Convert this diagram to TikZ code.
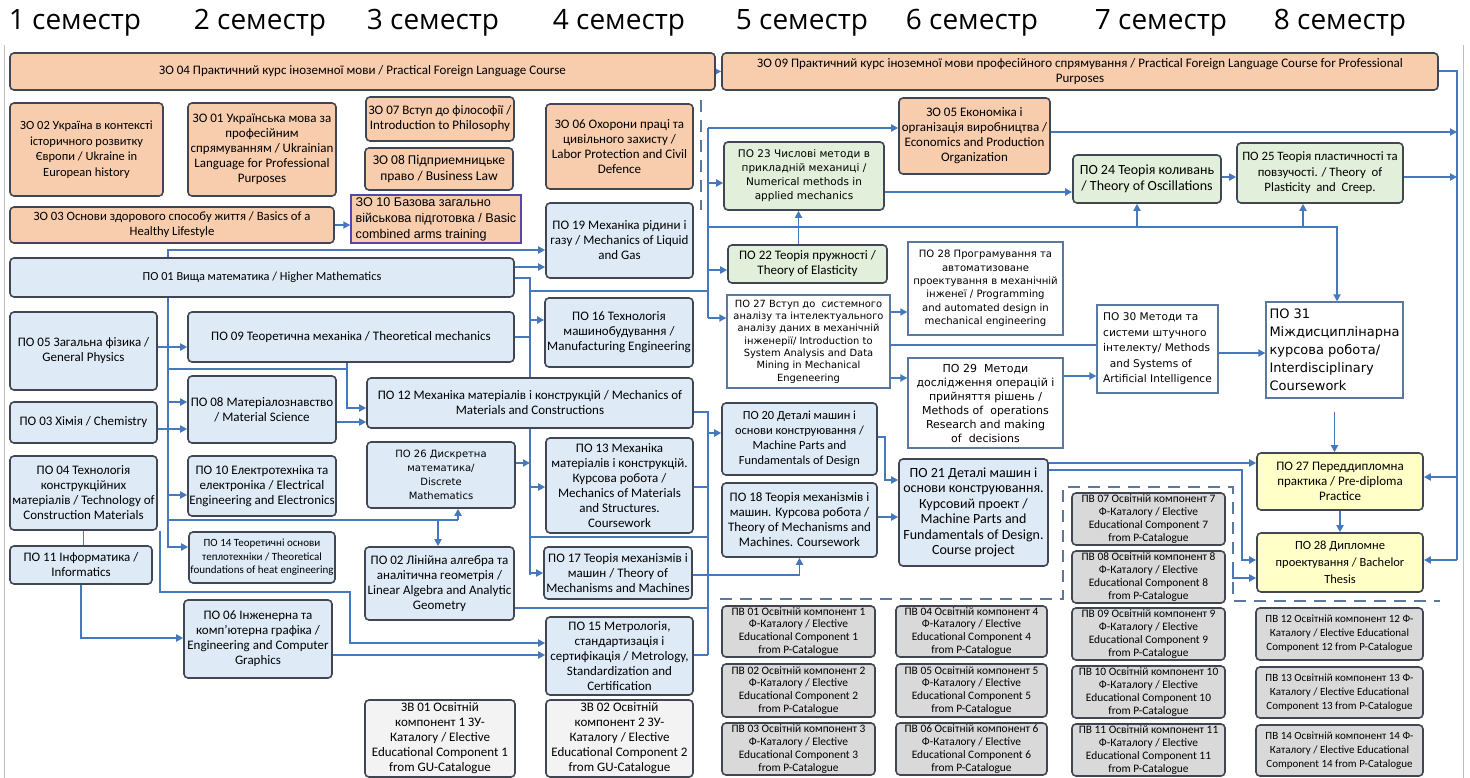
\documentclass[tikz,border=0pt]{standalone}
\usepackage{fontspec}
\setmainfont{Carlito}
\newfontfamily\hdrf{Open Sans}
\newfontfamily\dvs{DejaVu Sans}
\newfontfamily\lib{Liberation Sans}
\usetikzlibrary{arrows.meta,backgrounds}
\definecolor{bordc}{RGB}{64,70,84}
\definecolor{orangef}{RGB}{248,205,174}
\definecolor{bluef}{RGB}{222,235,247}
\definecolor{greenf}{RGB}{226,239,218}
\definecolor{yellowf}{RGB}{255,255,200}
\definecolor{grayf}{RGB}{217,217,217}
\definecolor{lgrayf}{RGB}{243,243,243}
\definecolor{arrc}{RGB}{70,120,190}
\definecolor{wbord}{RGB}{90,120,160}
\definecolor{purp}{RGB}{85,70,170}
\newcommand\cb{\fontsize{13}{15}\selectfont}
\newcommand\pvf{\fontsize{11.4}{12.9}\selectfont}
\newcommand\hfnt{\hdrf\fontsize{28}{32}\selectfont}
\newcommand\bx[7]{\node[#1,minimum width={#5-#3},minimum height={#6-#4}] (#2) at ({(#3+#5)/2},{-(#4+#6)/2}) {#7};}
\tikzset{
 base/.style={draw=bordc, line width=1.6pt, rounded corners=4pt, align=center, inner sep=1pt, font=\cb},
 zo/.style={base, fill=orangef},
 po/.style={base, fill=bluef},
 gr/.style={base, fill=greenf},
 ye/.style={base, fill=yellowf},
 pv/.style={base, fill=grayf, font=\pvf, inner sep=0pt},
 zv/.style={base, fill=lgrayf},
 wb/.style={draw=wbord, line width=1.3pt, fill=white, align=center, inner sep=2pt},
 hdr/.style={anchor=base, font=\hfnt, inner sep=0pt},
 arr/.style={draw=arrc, line width=1.8pt, -{Triangle[length=7pt,width=7pt]}},
 ln/.style={draw=arrc, line width=1.8pt},
 dsh/.style={draw=wbord, line width=1.8pt, dash pattern=on 12pt off 8pt},
}
\begin{document}
\begin{tikzpicture}[x=1pt,y=1pt]
\useasboundingbox (0,0) rectangle (1470,-778);
% headers
\node[hdr] (h1) at (75,-30) {1 семестр};
\node[hdr] (h2) at (260,-30) {2 семестр};
\node[hdr] (h3) at (433,-30) {3 семестр};
\node[hdr] (h4) at (619,-30) {4 семестр};
\node[hdr] (h5) at (802,-30) {5 семестр};
\node[hdr] (h6) at (972,-30) {6 семестр};
\node[hdr] (h7) at (1161,-30) {7 семестр};
\node[hdr] (h8) at (1340,-30) {8 семестр};
% orange
\bx{zo}{zo04}{10}{53}{715}{90}{ЗО 04 Практичний курс іноземної мови / Practical Foreign Language Course}
\bx{zo}{zo09}{722}{53}{1438}{90}{ЗО 09 Практичний курс іноземної мови професійного спрямування / Practical Foreign Language Course for Professional\\Purposes}
\bx{zo, font=\fontsize{12.5}{15.5}\selectfont}{zo02}{10}{103}{163}{196}{ЗО 02 Україна в контексті\\історичного розвитку\\Європи / Ukraine in\\European history}
\bx{zo}{zo01}{188}{103}{336}{196}{ЗО 01 Українська мова за\\професійним\\спрямуванням / Ukrainian\\Language for Professional\\Purposes}
\bx{zo}{zo07}{366}{97}{514}{141}{ЗО 07 Вступ до філософії /\\Introduction to Philosophy}
\bx{zo, font=\fontsize{13.5}{16}\selectfont}{zo08}{365}{148}{513}{190}{ЗО 08 Підприемницьке\\право / Business Law}
\bx{zo, draw=purp, line width=1.4pt, rounded corners=0pt, align=left, font=\lib\fontsize{12.6}{16}\selectfont}{zo10}{351}{195}{521}{243}{ЗО 10 Базова загально\\військова підготовка / Basic\\combined arms training}
\bx{zo}{zo06}{546}{104}{693}{189}{ЗО 06 Охорони праці та\\цивільного захисту /\\Labor Protection and Civil\\Defence}
\bx{zo, font=\fontsize{12.7}{15}\selectfont}{zo03}{10}{207}{334}{243}{ЗО 03 Основи здорового способу життя / Basics of a\\Healthy Lifestyle}
\bx{zo}{zo05}{899}{98}{1050}{174}{ЗО 05 Економіка і\\організація виробництва /\\Economics and Production\\Organization}
% blue
\bx{po, font=\fontsize{12.3}{15}\selectfont}{po01}{10}{258}{514}{297}{ПО 01 Вища математика / Higher Mathematics}
\bx{po}{po05}{10}{312}{157}{390}{ПО 05 Загальна фізика /\\General Physics}
\bx{po}{po03}{10}{402}{157}{443}{ПО 03 Хімія / Chemistry}
\bx{po}{po04}{10}{456}{157}{530}{ПО 04 Технологія\\конструкційних\\матеріалів / Technology of\\Construction Materials}
\bx{po}{po11}{10}{546}{152}{584}{ПО 11 Інформатика /\\Informatics}
\bx{po}{po09}{188}{312}{514}{362}{ПО 09 Теоретична механіка / Theoretical mechanics}
\bx{po}{po08}{188}{376}{336}{443}{ПО 08 Матеріалознавство\\/ Material Science}
\bx{po}{po10}{188}{456}{336}{516}{ПО 10 Електротехніка та\\електроніка / Electrical\\Engineering and Electronics}
\bx{po, font=\fontsize{11}{13.5}\selectfont}{po14}{189}{532}{335}{583}{ПО 14 Теоретичні основи\\теплотехніки / Theoretical\\foundations of heat engineering}
\bx{po}{po06}{184}{600}{332}{678}{ПО 06 Інженерна та\\комп’ютерна графіка /\\Engineering and Computer\\Graphics}
\bx{po}{po12}{367}{378}{693}{428}{ПО 12 Механіка матеріалів і конструкцій / Mechanics of\\Materials and Constructions}
\bx{po, font=\dvs\fontsize{10}{14}\selectfont}{po26}{367}{442}{515}{508}{ПО 26 Дискретна\\математика/\\Discrete\\Mathematics}
\bx{po}{po02}{365}{547}{514}{620}{ПО 02 Лінійна алгебра та\\аналітична геометрія /\\Linear Algebra and Analytic\\Geometry}
\bx{zv}{zv01}{365}{700}{515}{777}{ЗВ 01 Освітній\\компонент 1 ЗУ-\\Каталогу / Elective\\Educational Component 1\\from GU-Catalogue}
\bx{po}{po19}{546}{203}{693}{278}{ПО 19 Механіка рідини і\\газу / Mechanics of Liquid\\and Gas}
\bx{po}{po16}{545}{298}{693}{367}{ПО 16 Технологія\\машинобудування /\\Manufacturing Engineering}
\bx{po}{po13}{546}{438}{693}{533}{ПО 13 Механіка\\матеріалів і конструкцій.\\Курсова робота /\\Mechanics of Materials\\and Structures.\\Coursework}
\bx{po}{po17}{544}{547}{692}{599}{ПО 17 Теорія механізмів і\\машин / Theory of\\Mechanisms and Machines}
\bx{po}{po15}{546}{617}{693}{695}{ПО 15 Метрологія,\\стандартизація і\\сертифікація / Metrology,\\Standardization and\\Certification}
\bx{zv}{zv02}{546}{700}{693}{777}{ЗВ 02 Освітній\\компонент 2 ЗУ-\\Каталогу / Elective\\Educational Component 2\\from GU-Catalogue}
% column 5
\bx{gr, font=\dvs\fontsize{10.5}{14}\selectfont}{po23}{724}{142}{884}{210}{ПО 23 Числові методи в\\прикладній механиці /\\Numerical methods in\\applied mechanics}
\bx{gr}{po22}{728}{245}{887}{283}{ПО 22 Теорія пружності /\\Theory of Elasticity}
\bx{wb, font=\dvs\fontsize{9.9}{12.3}\selectfont}{po27v}{727}{295}{890}{388}{ПО 27 Вступ до\ \ системного\\аналізу та інтелектуального\\аналізу даних в механічній\\інженерії/ Introduction to\\System Analysis and Data\\Mining in Mechanical\\Engeneering}
\bx{po, font=\fontsize{12.4}{15}\selectfont}{po20}{722}{403}{877}{475}{ПО 20 Деталі машин і\\основи конструювання /\\Machine Parts and\\Fundamentals of Design}
\bx{po}{po18}{722}{483}{877}{557}{ПО 18 Теорія механізмів і\\машин. Курсова робота /\\Theory of Mechanisms and\\Machines. Coursework}
\bx{pv}{pv01}{722}{606}{875}{657}{ПВ 01 Освітній компонент 1\\Ф-Каталогу / Elective\\Educational Component 1\\from P-Catalogue}
\bx{pv}{pv02}{722}{664}{875}{717}{ПВ 02 Освітній компонент 2\\Ф-Каталогу / Elective\\Educational Component 2\\from P-Catalogue}
\bx{pv}{pv03}{722}{723}{875}{775}{ПВ 03 Освітній компонент 3\\Ф-Каталогу / Elective\\Educational Component 3\\from P-Catalogue}
% column 6
\bx{wb, font=\dvs\fontsize{10.1}{13.3}\selectfont}{po28p}{908}{242}{1063}{335}{ПО 28 Програмування та\\автоматизоване\\проектування в механічній\\інженеї / Programming\\and automated design in\\mechanical engineering}
\bx{wb, font=\dvs\fontsize{11}{14}\selectfont}{po29}{908}{358}{1063}{448}{ПО 29\ \ Методи\\дослідження операцій і\\прийняття рішень /\\Methods of\ \ operations\\Research and making\\of\ \ decisions}
\bx{po, font=\fontsize{14}{15.5}\selectfont}{po21}{899}{459}{1048}{566}{ПО 21 Деталі машин і\\основи конструювання.\\Курсовий проект /\\Machine Parts and\\Fundamentals of Design.\\Course project}
\bx{pv}{pv04}{896}{606}{1047}{657}{ПВ 04 Освітній компонент 4\\Ф-Каталогу / Elective\\Educational Component 4\\from P-Catalogue}
\bx{pv}{pv05}{896}{664}{1047}{717}{ПВ 05 Освітній компонент 5\\Ф-Каталогу / Elective\\Educational Component 5\\from P-Catalogue}
\bx{pv}{pv06}{896}{723}{1047}{775}{ПВ 06 Освітній компонент 6\\Ф-Каталогу / Elective\\Educational Component 6\\from P-Catalogue}
% column 7
\bx{gr, font=\fontsize{14}{16}\selectfont}{po24}{1073}{155}{1221}{203}{ПО 24 Теорія коливань\\/ Theory of Oscillations}
\bx{wb, align=left, font=\dvs\fontsize{10.6}{15.5}\selectfont}{po30}{1097}{305}{1218}{393}{ПО 30 Методи та\\системи штучного\\інтелекту/ Methods\\\ \ and Systems of\\Artificial Intelligence}
\bx{pv}{pv07}{1072}{493}{1225}{545}{ПВ 07 Освітній компонент 7\\Ф-Каталогу / Elective\\Educational Component 7\\from P-Catalogue}
\bx{pv}{pv08}{1072}{551}{1225}{603}{ПВ 08 Освітній компонент 8\\Ф-Каталогу / Elective\\Educational Component 8\\from P-Catalogue}
\bx{pv}{pv09}{1072}{608}{1225}{660}{ПВ 09 Освітній компонент 9\\Ф-Каталогу / Elective\\Educational Component 9\\from P-Catalogue}
\bx{pv}{pv10}{1072}{666}{1225}{718}{ПВ 10 Освітній компонент 10\\Ф-Каталогу / Elective\\Educational Component 10\\from P-Catalogue}
\bx{pv}{pv11}{1072}{724}{1225}{776}{ПВ 11 Освітній компонент 11\\Ф-Каталогу / Elective\\Educational Component 11\\from P-Catalogue}
% column 8
\bx{gr, font=\fontsize{12.8}{15.5}\selectfont}{po25}{1237}{143}{1403}{203}{ПО 25 Теорія пластичності та\\повзучості. / Theory\ \ of\\Plasticity\ \ and\ \ Creep.}
\bx{wb, align=left, font=\dvs\fontsize{13}{18}\selectfont}{po31}{1266}{302}{1403}{398}{ПО 31\\Міждисциплінарна\\курсова робота/\\Interdisciplinary\\Coursework}
\bx{ye}{po27p}{1257}{453}{1423}{510}{ПО 27 Переддипломна\\практика / Pre-diploma\\Practice}
\bx{ye, font=\fontsize{12.5}{17}\selectfont}{po28d}{1257}{533}{1423}{592}{ПО 28 Дипломне\\проектування / Bachelor\\Thesis}
\bx{pv, font=\fontsize{11}{14}\selectfont}{pv12}{1256}{608}{1423}{660}{ПВ 12 Освітній компонент 12 Ф-\\Каталогу / Elective Educational\\Component 12 from P-Catalogue}
\bx{pv, font=\fontsize{11}{14}\selectfont}{pv13}{1256}{667}{1423}{718}{ПВ 13 Освітній компонент 13 Ф-\\Каталогу / Elective Educational\\Component 13 from P-Catalogue}
\bx{pv, font=\fontsize{11}{14}\selectfont}{pv14}{1256}{725}{1423}{776}{ПВ 14 Освітній компонент 14 Ф-\\Каталогу / Elective Educational\\Component 14 from P-Catalogue}
% coordinates
\coordinate (bA) at (530,-278);
\coordinate (bB) at (708,-128);
\coordinate (bC) at (708,-412);
\coordinate (bL) at (168,-297);
\coordinate (rT) at (1457,-71);
\coordinate (rB) at (1457,-560);
\coordinate (t1) at (1337,-227);
\coordinate (k1) at (1242,-470);
\coordinate (dk) at (1233,-566);
\coordinate (k2) at (347,-369);
\coordinate (k3) at (458,-520);
\coordinate (k4) at (160,-592);
\coordinate (k5) at (350,-643);
\coordinate (a22) at ([xshift=-9pt]po22.north);
\coordinate (a24) at ([xshift=-10pt]po24.south);
\coordinate (a25) at ([xshift=-17pt]po25.south);
\coordinate (a02) at ([xshift=-20pt]k3);
\coordinate (a20) at ([xshift=7pt]po20.east |- 0,-437);
\begin{scope}[on background layer]
\fill[white] (0,0) rectangle (1470,-778);
\draw[black!25, line width=0.8pt] (4,-45) -- (4,-778);
\draw[black!25, line width=0.8pt] (1463,-45) -- (1463,-778);
% dashed
\draw[dsh] (720,-599) -- (1063,-599) -- (1063,-487) -- (1233,-487) -- (1233,-601) -- (1440,-601);
\draw[dsh] (701,-100) -- (701,-210);
% top
\draw[arr] (zo04.east) -- (zo09.west);
\draw[arr] (zo03.east) -- (zo03.east -| zo10.west);
\draw[ln] (zo09.east |- rT) -- (rT) -- (rB);
\draw[arr] (rB) -- (po28d.east |- rB);
\draw[arr] (rT |- 0,-477) -- (po27p.east |- 0,-477);
\draw[arr] (zo05.east |- 0,-132) -- (rT |- 0,-132);
\draw[arr] (po25.east |- 0,-177) -- (rT |- 0,-177);
% PO01 -> PO19
\draw[arr] (po01.north -| bL) |- (po19.west |- 0,-250);
\draw[arr] (po01.east |- 0,-267) -- (po19.west |- 0,-267);
% bus A
\draw[ln] (po01.east |- bA) -- (bA) -- (bA |- 0,-575);
\draw[arr] (bA |- 0,-320) -- (po16.west |- 0,-320);
\draw[arr] (bA |- 0,-487) -- (po13.west |- 0,-487);
\draw[arr] (bA |- 0,-573) -- (po17.west |- 0,-573);
\draw[ln] (po09.east |- 0,-337) -- (bA |- 0,-337);
\draw[arr] (po26.east |- 0,-463) -- (bA |- 0,-463);
\draw[ln] (bA |- 0,-291) -- (bB |- 0,-291);
\draw[ln] (bA |- 0,-537) -- (bC |- 0,-537);
% bus B
\draw[ln] (bB) -- (bB |- 0,-318);
\draw[arr] (bB) -- (zo05.west |- bB);
\draw[arr] (bB |- 0,-183) -- (po23.west |- 0,-183);
\draw[arr] (bB |- 0,-270) -- (po22.west |- 0,-270);
\draw[arr] (bB |- 0,-318) -- (po27v.west |- 0,-318);
\draw[arr] (bB |- t1) -- (t1) -- (po31.north -| t1);
\draw[arr] (a24 |- t1) -- (a24);
\draw[arr] (a25 |- t1) -- (a25);
\draw[arr] (a22) -- (a22 |- po23.south);
% bus C
\draw[ln] (po12.east |- bC) -- (bC) -- (bC |- 0,-655);
\draw[ln] (po13.east |- 0,-487) -- (bC |- 0,-487);
\draw[ln] (po02.east |- 0,-608) -- (bC |- 0,-608);
\draw[ln] (po15.east |- 0,-655) -- (bC |- 0,-655);
\draw[arr] (bC |- 0,-433) -- (po20.west |- 0,-433);
\draw[arr] (po17.east |- 0,-575) -| (po18.south);
\draw[arr] (po20.east |- a20) -- (a20) |- (po21.west |- 0,-480);
\draw[arr] (po18.east |- 0,-517) -- (po21.west |- 0,-517);
\draw[arr] (po21.east |- 0,-463) -- (po27p.west |- 0,-463);
\draw[arr] (po21.east |- k1) -- (k1) |- (po28d.west |- 0,-560);
\draw[arr] (dk) |- (po28d.west |- 0,-578);
% right
\draw[arr] (po23.east |- 0,-192) -- (po24.west |- 0,-192);
\draw[arr] (po24.east |- 0,-177) -- (po25.west |- 0,-177);
\draw[arr] (po27v.east |- 0,-312) -- (po28p.west |- 0,-312);
\draw[ln] (po27v.east |- 0,-345) -- (po30.west |- 0,-345);
\draw[arr] (po27v.east |- 0,-378) -- (po29.west |- 0,-378);
\draw[arr] (po29.east |- 0,-376) -- (po30.west |- 0,-376);
\draw[arr] (po30.east |- 0,-353) -- (po31.west |- 0,-353);
\draw[arr, shorten <=13pt] (po31.south) -- (po31.south |- po27p.north);
\draw[arr] (po27p.south) -- (po27p.south |- po28d.north);
% left
\draw[arr] (po01.south -| bL) |- (po14.west |- 0,-547);
\draw[arr] (bL |- 0,-402) -- (po08.west |- 0,-402);
\draw[arr] (bL |- 0,-495) -- (po10.west |- 0,-495);
\draw[arr] (po05.east |- 0,-347) -- (po09.west |- 0,-347);
\draw[arr] (po03.east |- 0,-429) -- (po08.west |- 0,-429);
\draw[ln] (bL |- k2) -- (k2);
\draw[arr] (po09.south -| k2) -- (k2) |- (po12.west |- 0,-408);
\draw[arr] (po08.east |- 0,-422) -- (po12.west |- 0,-422);
\draw[ln] (bL |- k3) -- (k3);
\draw[arr] (k3) -- (k3 |- po26.south);
\draw[arr] (a02) -- (a02 |- po02.north);
\draw[arr] (po04.south -| k4) -- (k4) -| (k5) -- (po15.west |- k5);
\draw[ln] (po04.south) -- (po04.south |- po11.north);
\draw[arr] (po11.south) |- (po06.west |- 0,-638);
\draw[arr] (po06.east |- 0,-655) -- (po15.west |- 0,-655);
\end{scope}
\end{tikzpicture}
\end{document}
